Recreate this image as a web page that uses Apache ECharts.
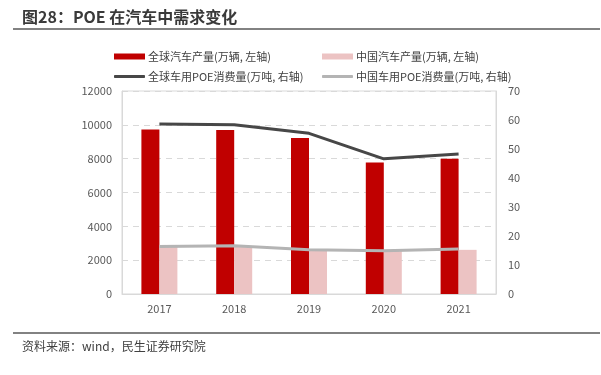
<!DOCTYPE html>
<html><head><meta charset="utf-8">
<script src="https://cdn.jsdelivr.net/npm/echarts@6/dist/echarts.min.js"></script>
<style>html,body{margin:0;padding:0;background:#fff}#c{width:601px;height:375px}</style>
</head><body><div id="c"></div>
<script>
var categories = ['2017','2018','2019','2020','2021'];
var globalCars = [9730, 9690, 9220, 7780, 8000];
var chinaCars = [2900, 2810, 2570, 2530, 2610];
var globalPOE = [58.6, 58.4, 55.4, 46.6, 48.3];
var chinaPOE = [16.4, 16.6, 15.3, 14.9, 15.5];
var leftTicks = {min: 0, max: 12000, interval: 2000};
var rightTicks = {min: 0, max: 70, interval: 10};
var names = ['全球汽车产量(万辆, 左轴)','中国汽车产量(万辆, 左轴)','全球车用POE消费量(万吨, 右轴)','中国车用POE消费量(万吨, 右轴)'];

var font = '"Noto Sans CJK SC", "Microsoft YaHei", sans-serif';
var chart = echarts.init(document.getElementById('c'));
function lg(name, left, top, isLine) {
  return {
    data: [{name: name, icon: isLine ? 'roundRect' : 'rect'}], left: left, top: top, itemWidth: 31, itemHeight: isLine ? 3 : 6,
    itemGap: 0, padding: 0,
    textStyle: {fontFamily: font, fontSize: 11, color: '#404040', padding: [0,0,0,-2]},
    selectedMode: false
  };
}
chart.setOption({
  animation: false,
  textStyle: {fontFamily: font},
  grid: {left: 122, right: 105, top: 91, bottom: 81, show: true, borderColor: '#d9d9d9', borderWidth: 1},
  legend: [
    lg(names[0], 114, 51, false),
    lg(names[1], 322, 51, false),
    lg(names[2], 114, 71, true),
    lg(names[3], 322, 71, true)
  ],
  xAxis: {
    type: 'category', data: categories,
    axisLine: {show: true, lineStyle: {color: '#d9d9d9'}},
    axisTick: {show: false},
    axisLabel: {color: '#595959', fontSize: 11, margin: 9, fontFamily: font}
  },
  yAxis: [
    {type: 'value', min: leftTicks.min, max: leftTicks.max, interval: leftTicks.interval,
     axisLine: {show: true, lineStyle: {color: '#d9d9d9'}}, axisTick: {show: false},
     axisLabel: {color: '#595959', fontSize: 11, margin: 10, fontFamily: font, formatter: function (v) { return String(v); }},
     splitLine: {show: true, lineStyle: {color: '#d9d9d9', type: [6, 5], width: 1}}},
    {type: 'value', min: rightTicks.min, max: rightTicks.max, interval: rightTicks.interval,
     axisLine: {show: true, lineStyle: {color: '#d9d9d9'}}, axisTick: {show: false},
     axisLabel: {color: '#595959', fontSize: 11, margin: 12, fontFamily: font},
     splitLine: {show: false}}
  ],
  series: [
    {name: names[0], type: 'bar', data: globalCars, barWidth: 18, barGap: '0%', itemStyle: {color: '#c00000'}},
    {name: names[1], type: 'bar', data: chinaCars, barWidth: 18, barGap: '0%', itemStyle: {color: '#ecc3c3'}},
    {name: names[2], type: 'line', yAxisIndex: 1, data: globalPOE, symbol: 'none', lineStyle: {color: '#474747', width: 3}, itemStyle: {color: '#474747'}},
    {name: names[3], type: 'line', yAxisIndex: 1, data: chinaPOE, symbol: 'none', lineStyle: {color: '#b4b4b4', width: 3}, itemStyle: {color: '#b4b4b4'}}
  ],
  graphic: [
    {type: 'text', left: 22, top: 9, style: {text: '图28：POE 在汽车中需求变化', font: 'bold 16px ' + font, fill: '#3a3a3a'}},
    {type: 'line', shape: {x1: 13, y1: 29, x2: 600, y2: 29}, style: {stroke: '#595959', lineWidth: 1.5}},
    {type: 'line', shape: {x1: 13, y1: 333, x2: 600, y2: 333}, style: {stroke: '#595959', lineWidth: 1.5}},
    {type: 'text', left: 22, top: 340, style: {text: '资料来源：wind，民生证券研究院', font: '12px ' + font, fill: '#404040'}}
  ]
});
</script></body></html>
